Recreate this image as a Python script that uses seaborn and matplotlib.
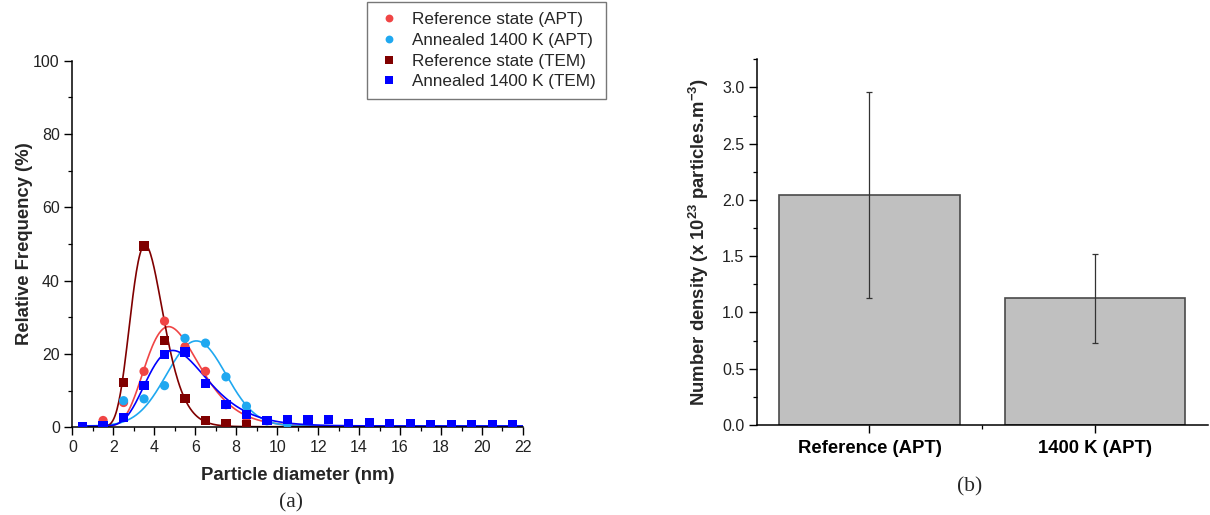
import numpy as np
import pandas as pd
import matplotlib
matplotlib.use('Agg')
import matplotlib.pyplot as plt
from matplotlib.ticker import MultipleLocator
import seaborn as sns

# --- (a) size distributions ---
ref_apt_x = [1.5, 2.5, 3.5, 4.5, 5.5, 6.5, 7.5, 8.5]
ref_apt_y = [1.9, 6.8, 15.3, 29.0, 22.0, 15.3, 6.2, 1.6]

ann_apt_x = [0.5, 1.5, 2.5, 3.5, 4.5, 5.5, 6.5, 7.5, 8.5, 9.5, 10.5]
ann_apt_y = [0.2, 0.5, 7.3, 7.8, 11.4, 24.3, 23.0, 13.8, 5.8, 1.8, 1.0]

ref_tem_x = [0.5, 1.5, 2.5, 3.5, 4.5, 5.5, 6.5, 7.5, 8.5]
ref_tem_y = [0.0, 0.6, 12.2, 49.5, 23.8, 7.8, 1.9, 1.0, 0.8]

ann_tem_x = [0.5, 1.5, 2.5, 3.5, 4.5, 5.5, 6.5, 7.5, 8.5, 9.5, 10.5,
             11.5, 12.5, 13.5, 14.5, 15.5, 16.5, 17.5, 18.5, 19.5, 20.5, 21.5]
ann_tem_y = [0.1, 0.5, 2.7, 11.5, 20.0, 20.6, 11.9, 6.2, 3.6, 2.0, 2.2,
             2.1, 2.1, 1.0, 1.2, 1.0, 1.1, 0.9, 0.8, 0.9, 0.7, 0.8]

series_names = ['Reference state (APT)', 'Annealed 1400 K (APT)',
                'Reference state (TEM)', 'Annealed 1400 K (TEM)']
series_colors = ['#F04545', '#1FA8F0', '#800000', '#0000FF']
series_markers = ['o', 'o', 's', 's']

# fitted curves: kind, peak position, peak height, width, baseline
fit_kind = ['lognormal', 'gauss', 'lognormal', 'lognormal']
fit_pos = [4.7, 6.05, 3.55, 4.9]
fit_height = [27.5, 23.6, 49.8, 21.0]
fit_width = [0.28, 1.45, 0.225, 0.30]
fit_base = [0.3, 0.4, 0.2, 0.4]

# --- (b) number density ---
bar_labels = ['Reference (APT)', '1400 K (APT)']
bar_values = [2.04, 1.13]
bar_err_low = [0.91, 0.40]
bar_err_high = [0.92, 0.39]

sns.set_style('ticks')
plt.rcParams['font.family'] = ['Liberation Sans', 'DejaVu Sans']
plt.rcParams['mathtext.fontset'] = 'custom'
plt.rcParams['mathtext.rm'] = 'Liberation Sans'
plt.rcParams['mathtext.bf'] = 'Liberation Sans:bold'

pts = pd.concat([
    pd.DataFrame({'x': xs, 'y': ys, 'series': name})
    for xs, ys, name in zip([ref_apt_x, ann_apt_x, ref_tem_x, ann_tem_x],
                            [ref_apt_y, ann_apt_y, ref_tem_y, ann_tem_y],
                            series_names)
], ignore_index=True)

xx = np.linspace(0.5, 22, 500)
curves = []
for name, kind, p, h, w, b in zip(series_names, fit_kind, fit_pos,
                                  fit_height, fit_width, fit_base):
    if kind == 'lognormal':
        yy = b + (h - b) * np.exp(-np.log(xx / p) ** 2 / (2 * w ** 2))
    else:
        yy = b + (h - b) * np.exp(-(xx - p) ** 2 / (2 * w ** 2))
    curves.append(pd.DataFrame({'x': xx, 'y': yy, 'series': name}))
curves = pd.concat(curves, ignore_index=True)

palette = dict(zip(series_names, series_colors))
markers = dict(zip(series_names, series_markers))

fig = plt.figure(figsize=(12.1, 5.15), dpi=100)
ax1 = fig.add_axes([0.0598, 0.170, 0.3724, 0.712])
ax2 = fig.add_axes([0.6254, 0.1748, 0.3727, 0.7101])

sns.lineplot(data=curves, x='x', y='y', hue='series', palette=palette,
             hue_order=series_names, linewidth=1.2, legend=False, ax=ax1)
sns.scatterplot(data=pts, x='x', y='y', hue='series', style='series',
                hue_order=series_names, style_order=series_names,
                palette=palette, markers=markers, s=44, linewidth=0,
                ax=ax1, zorder=3)

ax1.set_xlim(0, 22)
ax1.set_ylim(0, 100)
ax1.xaxis.set_major_locator(MultipleLocator(2))
ax1.xaxis.set_minor_locator(MultipleLocator(1))
ax1.yaxis.set_major_locator(MultipleLocator(20))
ax1.yaxis.set_minor_locator(MultipleLocator(10))
ax1.set_xlabel('Particle diameter (nm)', fontsize=13.3, fontweight='bold', labelpad=9)
ax1.set_ylabel('Relative Frequency (%)', fontsize=13.3, fontweight='bold', labelpad=0)

sns.move_legend(ax1, 'upper left', bbox_to_anchor=(0.3033, 0.996),
                bbox_transform=fig.transFigure, title=None, fontsize=12.3,
                frameon=True, fancybox=False, edgecolor='#555555',
                labelspacing=0.34, handlelength=1.45, handletextpad=0.62,
                borderpad=0.58, borderaxespad=0, markerscale=0.85)
ax1.get_legend().get_frame().set_linewidth(1.0)

sns.barplot(x=bar_labels, y=bar_values, color='#C0C0C0', edgecolor='#4A4A4A',
            linewidth=1.2, width=0.8, saturation=1, ax=ax2)
ax2.errorbar(bar_labels, bar_values, yerr=[bar_err_low, bar_err_high],
             fmt='none', ecolor='#333333', elinewidth=0.9, capsize=2.3, capthick=0.9)
ax2.set_xlim(-0.5, 1.5)
ax2.set_ylim(0, 3.25)
ax2.yaxis.set_major_locator(MultipleLocator(0.5))
ax2.yaxis.set_minor_locator(MultipleLocator(0.25))
ax2.set_xticks([0.5], minor=True)
ax2.set_ylabel(r'Number density (x 10$^{\mathbf{23}}$ particles.m$^{\mathbf{-3}}$)',
               fontsize=13.3, fontweight='bold', labelpad=8)

for ax in (ax1, ax2):
    sns.despine(ax=ax)
    for sp in ('left', 'bottom'):
        ax.spines[sp].set_linewidth(1.1)
        ax.spines[sp].set_color('#000000')
    ax.tick_params(which='major', direction='out', length=5.5, width=1.0,
                   color='#000000', labelsize=11.5, labelcolor='#222222')
    ax.tick_params(which='minor', direction='out', length=3, width=0.9,
                   color='#000000')
ax2.tick_params(axis='x', labelcolor='#000000', pad=5)
for lab in ax2.get_xticklabels():
    lab.set_fontweight('bold')
    lab.set_fontsize(13.3)

fig.text(0.2405, 0.0233, '(a)', ha='center', va='center', fontsize=15.5,
         family=['Liberation Serif', 'DejaVu Serif'])
fig.text(0.8017, 0.0544, '(b)', ha='center', va='center', fontsize=15.5,
         family=['Liberation Serif', 'DejaVu Serif'])

fig.savefig('out.png', dpi=100)
